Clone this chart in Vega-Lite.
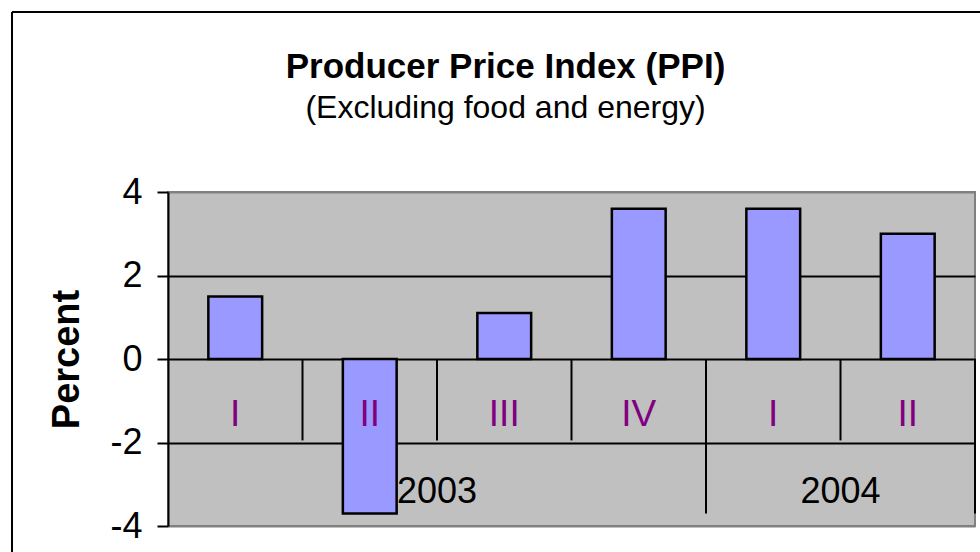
{
  "$schema": "https://vega.github.io/schema/vega-lite/v6.json",
  "width": 807,
  "height": 334,
  "autosize": {"type": "none"},
  "padding": {"left": 168, "top": 192, "right": 5, "bottom": 26},
  "background": "white",
  "config": {
    "font": "Liberation Sans",
    "view": {"fill": "#C0C0C0", "stroke": "#808080", "strokeWidth": 2}
  },
  "title": {
    "text": "Producer Price Index (PPI)",
    "subtitle": "(Excluding food and energy)",
    "font": "Liberation Sans",
    "fontSize": 35,
    "fontWeight": "bold",
    "color": "black",
    "subtitleFont": "Liberation Sans",
    "subtitleFontSize": 32,
    "subtitleColor": "black",
    "subtitlePadding": 8,
    "anchor": "middle",
    "frame": "group",
    "dx": -66,
    "offset": -113
  },
  "data": {
    "values": [
      {"key": "2003-I", "year": "2003", "q": "I", "value": 1.5},
      {"key": "2003-II", "year": "2003", "q": "II", "value": -3.7},
      {"key": "2003-III", "year": "2003", "q": "III", "value": 1.1},
      {"key": "2003-IV", "year": "2003", "q": "IV", "value": 3.6},
      {"key": "2004-I", "year": "2004", "q": "I", "value": 3.6},
      {"key": "2004-II", "year": "2004", "q": "II", "value": 3.0}
    ]
  },
  "layer": [
    {
      "layer": [
        {
          "mark": {"type": "bar", "width": {"band": 0.4}, "fill": "#9999FF", "stroke": "black", "strokeWidth": 2.5},
          "encoding": {
            "x": {"field": "key", "type": "nominal", "scale": {"domain": ["2003-I", "2003-II", "2003-III", "2003-IV", "2004-I", "2004-II"], "paddingInner": 0, "paddingOuter": 0}, "axis": null},
            "y": {
              "field": "value", "type": "quantitative",
              "scale": {"domain": [-4, 4], "nice": false},
              "axis": {
                "values": [-4, -2, 0, 2, 4],
                "labelExpr": "datum.value + ''",
                "labelFontSize": 36, "labelColor": "black", "labelFont": "Liberation Sans",
                "tickSize": 11, "tickColor": "black", "tickWidth": 2,
                "domainColor": "black", "domainWidth": 2,
                "labelPadding": 15,
                "grid": true,
                "gridColor": {"condition": {"test": "abs(datum.value) == 4", "value": "#808080"}, "value": "black"},
                "gridWidth": 2,
                "title": "Percent", "titleFontSize": 38, "titleFontWeight": "bold", "titleColor": "black", "titleFont": "Liberation Sans",
                "titlePadding": 23
              }
            }
          }
        },
        {
          "transform": [{"filter": "datum.q != 'I'"}],
          "mark": {"type": "rule", "color": "black", "strokeWidth": 2},
          "encoding": {
            "x": {"field": "key", "type": "nominal", "bandPosition": 0},
            "y": {"datum": 0, "type": "quantitative"},
            "y2": {"datum": -1.95}
          }
        },
        {
          "transform": [{"filter": "datum.key == '2004-I'"}],
          "mark": {"type": "rule", "color": "black", "strokeWidth": 2},
          "encoding": {
            "x": {"field": "key", "type": "nominal", "bandPosition": 0},
            "y": {"datum": 0, "type": "quantitative"},
            "y2": {"datum": -3.7}
          }
        },
        {
          "transform": [{"filter": "datum.key == '2004-II'"}],
          "mark": {"type": "rule", "color": "black", "strokeWidth": 2},
          "encoding": {
            "x": {"field": "key", "type": "nominal", "bandPosition": 1},
            "y": {"datum": 0, "type": "quantitative"},
            "y2": {"datum": -3.7}
          }
        },
        {
          "mark": {"type": "text", "fontSize": 37, "color": "#800080", "baseline": "middle", "align": "center", "font": "Liberation Sans"},
          "encoding": {
            "x": {"field": "key", "type": "nominal"},
            "y": {"datum": -1.33, "type": "quantitative"},
            "text": {"field": "q"}
          }
        },
        {
          "transform": [{"filter": "(datum.year == '2003' && datum.q == 'III') || (datum.year == '2004' && datum.q == 'II')"}],
          "mark": {"type": "text", "fontSize": 36, "color": "black", "baseline": "middle", "align": "center", "font": "Liberation Sans"},
          "encoding": {
            "x": {"field": "key", "type": "nominal", "bandPosition": 0},
            "y": {"datum": -3.19, "type": "quantitative"},
            "text": {"field": "year"}
          }
        }
      ]
    },
    {
      "data": {"values": [{"frame": "outer"}]},
      "layer": [
        {
          "mark": {"type": "rule", "color": "black", "strokeWidth": 2},
          "encoding": {
            "x": {"datum": -0.1933, "type": "quantitative", "scale": {"domain": [0, 1], "nice": false}, "axis": null},
            "y": {"datum": 8.31, "type": "quantitative", "scale": {"domain": [-4, 4], "nice": false}, "axis": null},
            "y2": {"datum": -6}
          }
        },
        {
          "mark": {"type": "rule", "color": "black", "strokeWidth": 2},
          "encoding": {
            "x": {"datum": -0.1933, "type": "quantitative"},
            "x2": {"datum": 2},
            "y": {"datum": 8.31, "type": "quantitative"}
          }
        }
      ]
    }
  ],
  "resolve": {"scale": {"x": "independent", "y": "independent"}, "axis": {"x": "independent", "y": "independent"}}
}
